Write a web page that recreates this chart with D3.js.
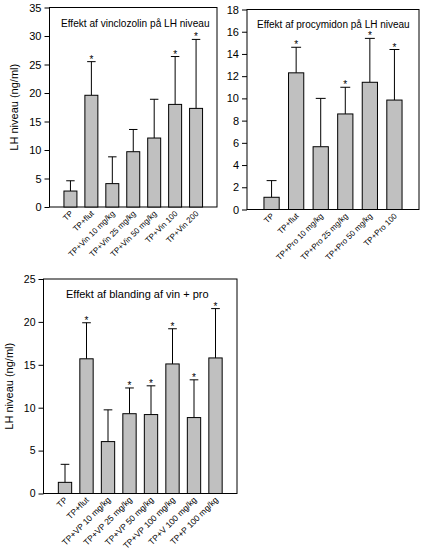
<!DOCTYPE html>
<html lang="da">
<head>
<meta charset="UTF-8">
<title>LH niveau</title>
<script src="https://d3js.org/d3.v7.min.js"></script>
<style>
  body { margin: 0; background: #fff; }
  svg { display: block; font-family: "Liberation Sans", Arial, sans-serif; }
</style>
</head>
<body>
<svg width="427" height="560"></svg>
<script>
// vinclozolin
const vinLabels = ['TP', 'TP+flut', 'TP+Vin 10 mg/kg', 'TP+Vin 25 mg/kg', 'TP+Vin 50 mg/kg', 'TP+Vin 100', 'TP+Vin 200'];
const vinMeans = [2.8, 19.6, 4.1, 9.7, 12.1, 18.0, 17.3];
const vinErr = [1.8, 5.9, 4.7, 3.9, 6.8, 8.4, 12.1];
const vinStars = [false, true, false, false, false, true, true];
const vinTicks = [0, 5, 10, 15, 20, 25, 30, 35];

// procymidon
const proLabels = ['TP', 'TP+flut', 'TP+Pro 10 mg/kg', 'TP+Pro 25 mg/kg', 'TP+Pro 50 mg/kg', 'TP+Pro 100'];
const proMeans = [1.1, 12.3, 5.65, 8.6, 11.45, 9.85];
const proErr = [1.5, 2.3, 4.35, 2.4, 3.95, 4.55];
const proStars = [false, true, false, true, true, true];
const proTicks = [0, 2, 4, 6, 8, 10, 12, 14, 16, 18];

// blanding
const mixLabels = ['TP', 'TP+flut', 'TP+VP 10 mg/kg', 'TP+VP 25 mg/kg', 'TP+VP 50 mg/kg', 'TP+VP 100 mg/kg', 'TP+V 100 mg/kg', 'TP+P 100 mg/kg'];
const mixMeans = [1.3, 15.7, 6.05, 9.3, 9.2, 15.1, 8.85, 15.8];
const mixErr = [2.1, 4.2, 3.7, 3.0, 3.35, 4.1, 4.4, 5.75];
const mixStars = [false, true, false, true, true, true, true, true];
const mixTicks = [0, 5, 10, 15, 20, 25];

const svg = d3.select('svg');

function drawPanel(p) {
  const g = svg.append('g');
  const rows = p.labels.map((l, i) => ({ label: l, mean: p.means[i], err: p.err[i], star: p.stars[i] }));

  const x = d3.scalePoint()
    .domain(p.labels)
    .range([p.left, p.right])
    .padding(1);
  const y = d3.scaleLinear()
    .domain([0, d3.max(p.ticks)])
    .range([p.bottom, p.top]);

  const bw = x.step() * 0.62;
  const cap = bw * 0.65;

  // frame
  g.append('rect')
    .attr('x', p.left).attr('y', p.top)
    .attr('width', p.right - p.left).attr('height', p.bottom - p.top)
    .attr('fill', 'none').attr('stroke', '#000').attr('stroke-width', 1);

  // error bars (upper only)
  const eb = g.selectAll('.err').data(rows).enter().append('g');
  eb.append('line')
    .attr('x1', d => x(d.label)).attr('x2', d => x(d.label))
    .attr('y1', d => y(d.mean)).attr('y2', d => y(d.mean + d.err))
    .attr('stroke', '#000');
  eb.append('line')
    .attr('x1', d => x(d.label) - cap / 2).attr('x2', d => x(d.label) + cap / 2)
    .attr('y1', d => y(d.mean + d.err)).attr('y2', d => y(d.mean + d.err))
    .attr('stroke', '#000');

  g.selectAll('.bar').data(rows).enter().append('rect')
    .attr('x', d => x(d.label) - bw / 2)
    .attr('y', d => y(d.mean))
    .attr('width', bw)
    .attr('height', d => y(0) - y(d.mean))
    .attr('fill', '#c0c0c0')
    .attr('stroke', '#000');

  g.selectAll('.star').data(rows.filter(d => d.star)).enter().append('text')
    .attr('x', d => x(d.label))
    .attr('y', d => y(d.mean + d.err) + 1)
    .attr('text-anchor', 'middle')
    .attr('font-size', 10)
    .text('*');

  // y axis
  const ya = g.append('g')
    .attr('transform', `translate(${p.left},0)`)
    .call(d3.axisLeft(y).tickValues(p.ticks).tickSize(5).tickPadding(3).tickFormat(d3.format('d')));
  ya.select('.domain').remove();
  ya.selectAll('text').attr('font-size', p.tickFont).attr('font-family', null).attr('fill', '#000');

  // x labels
  g.selectAll('.xl').data(rows).enter().append('text')
    .attr('transform', d => `translate(${x(d.label) + 3},${p.bottom + 7}) rotate(-45)`)
    .attr('text-anchor', 'end')
    .attr('font-size', p.labelFont)
    .text(d => d.label);

  g.append('text')
    .attr('x', p.titleX).attr('y', p.titleY)
    .attr('font-size', p.titleFont)
    .text(p.title);

  if (p.yLabelX) {
    g.append('text')
      .attr('transform', `translate(${p.yLabelX},${(p.top + p.bottom) / 2}) rotate(-90)`)
      .attr('text-anchor', 'middle')
      .attr('font-size', 11)
      .text('LH niveau (ng/ml)');
  }
}

drawPanel({
  labels: vinLabels, means: vinMeans, err: vinErr, stars: vinStars, ticks: vinTicks,
  left: 49.5, right: 217, top: 7.5, bottom: 207,
  title: 'Effekt af vinclozolin på LH niveau', titleX: 61, titleY: 26.5, titleFont: 10.1,
  tickFont: 11, labelFont: 8, yLabelX: 18
});

drawPanel({
  labels: proLabels, means: proMeans, err: proErr, stars: proStars, ticks: proTicks,
  left: 247, right: 419, top: 9.5, bottom: 209.5,
  title: 'Effekt af procymidon på LH niveau', titleX: 257, titleY: 27.5, titleFont: 10,
  tickFont: 11, labelFont: 8
});

drawPanel({
  labels: mixLabels, means: mixMeans, err: mixErr, stars: mixStars, ticks: mixTicks,
  left: 43.5, right: 237, top: 279, bottom: 493.5,
  title: 'Effekt af blanding af vin + pro', titleX: 66, titleY: 298, titleFont: 11,
  tickFont: 10.5, labelFont: 8.5, yLabelX: 13
});
</script>
</body>
</html>
